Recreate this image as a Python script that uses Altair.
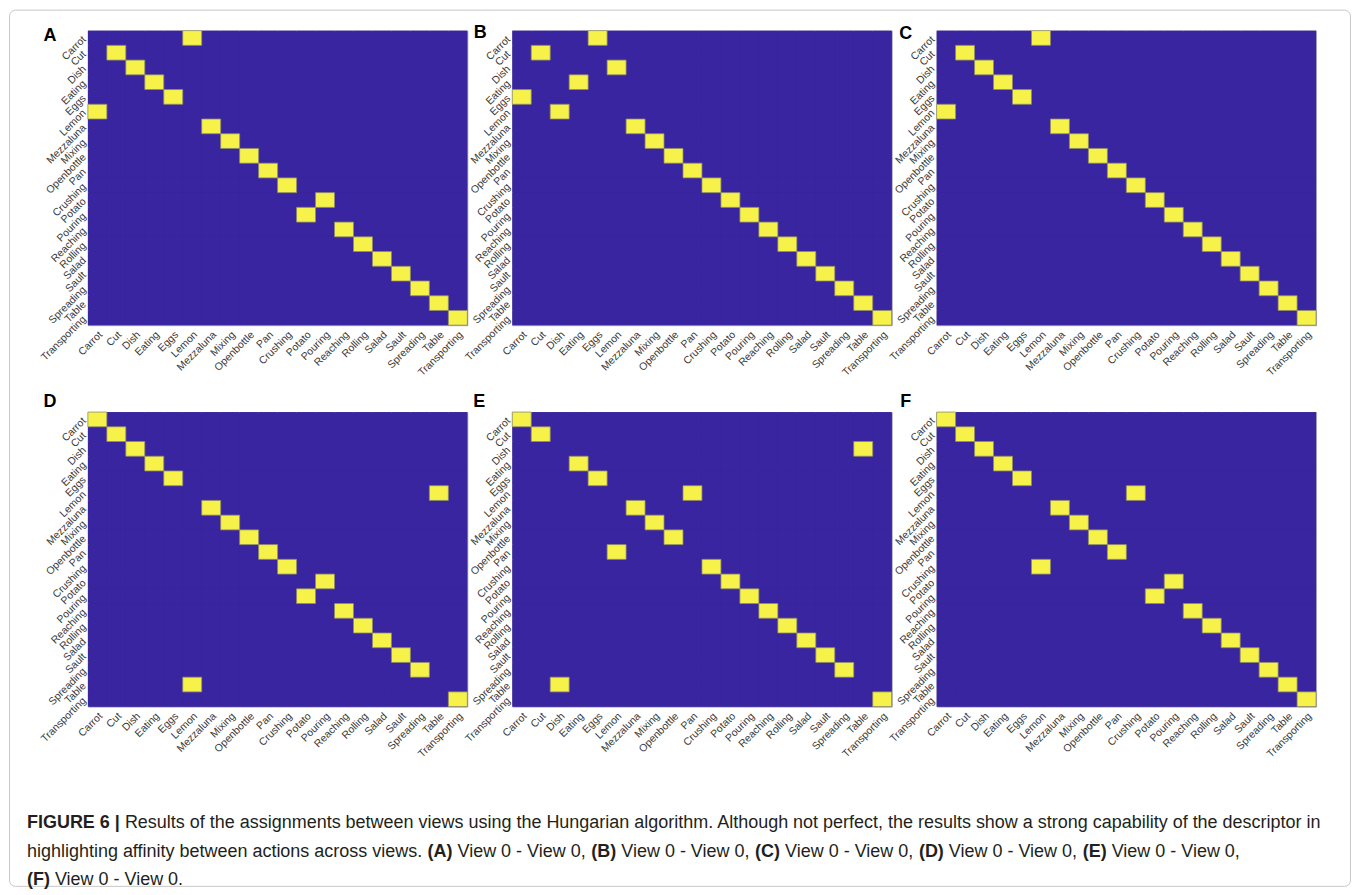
import altair as alt
import pandas as pd

actions = ["Carrot", "Cut", "Dish", "Eating", "Eggs", "Lemon", "Mezzaluna", "Mixing",
           "Openbottle", "Pan", "Crushing", "Potato", "Pouring", "Reaching", "Rolling",
           "Salad", "Sault", "Spreading", "Table", "Transporting"]

# column (action of the second view) assigned to each row action, per panel
assign_A = ["Lemon", "Cut", "Dish", "Eating", "Eggs", "Carrot", "Mezzaluna", "Mixing",
            "Openbottle", "Pan", "Crushing", "Pouring", "Potato", "Reaching", "Rolling",
            "Salad", "Sault", "Spreading", "Table", "Transporting"]
assign_B = ["Eggs", "Cut", "Lemon", "Eating", "Carrot", "Dish", "Mezzaluna", "Mixing",
            "Openbottle", "Pan", "Crushing", "Potato", "Pouring", "Reaching", "Rolling",
            "Salad", "Sault", "Spreading", "Table", "Transporting"]
assign_C = ["Lemon", "Cut", "Dish", "Eating", "Eggs", "Carrot", "Mezzaluna", "Mixing",
            "Openbottle", "Pan", "Crushing", "Potato", "Pouring", "Reaching", "Rolling",
            "Salad", "Sault", "Spreading", "Table", "Transporting"]
assign_D = ["Carrot", "Cut", "Dish", "Eating", "Eggs", "Table", "Mezzaluna", "Mixing",
            "Openbottle", "Pan", "Crushing", "Pouring", "Potato", "Reaching", "Rolling",
            "Salad", "Sault", "Spreading", "Lemon", "Transporting"]
assign_E = ["Carrot", "Cut", "Table", "Eating", "Eggs", "Pan", "Mezzaluna", "Mixing",
            "Openbottle", "Lemon", "Crushing", "Potato", "Pouring", "Reaching", "Rolling",
            "Salad", "Sault", "Spreading", "Dish", "Transporting"]
assign_F = ["Carrot", "Cut", "Dish", "Eating", "Eggs", "Crushing", "Mezzaluna", "Mixing",
            "Openbottle", "Pan", "Lemon", "Pouring", "Potato", "Reaching", "Rolling",
            "Salad", "Sault", "Spreading", "Table", "Transporting"]

panel_letters = ["A", "B", "C", "D", "E", "F"]

caption_line1 = [("FIGURE 6 |", True),
                 (" Results of the assignments between views using the Hungarian algorithm. "
                  "Although not perfect, the results show a strong capability of the descriptor in", False)]
caption_line2 = [("highlighting affinity between actions across views. ", False), ("(A)", True),
                 (" View 0 - View 0, ", False), ("(B)", True), (" View 0 - View 0, ", False),
                 ("(C)", True), (" View 0 - View 0, ", False), ("(D)", True),
                 (" View 0 - View 0, ", False), ("(E)", True), (" View 0 - View 0,", False)]
caption_line3 = [("(F)", True), (" View 0 - View 0.", False)]

BLUE = "#39259F"
YELLOW = "#F6F24A"
LABEL_FONT = "Liberation Sans, Arial, sans-serif"
CAP_FONT = "Liberation Sans, Arial, sans-serif"
CAP_SIZE = 18

PW, PH = 380, 295

# Arial / Liberation Sans advance widths (per 1000 em)
HELV = {' ': 278, '(': 333, ')': 333, ',': 278, '-': 333, '.': 278, '0': 556, '6': 556, '|': 260,
        'A': 667, 'B': 667, 'C': 722, 'D': 722, 'E': 667, 'F': 611, 'G': 778, 'H': 722, 'I': 278,
        'R': 722, 'U': 722, 'V': 667,
        'a': 556, 'b': 556, 'c': 500, 'd': 556, 'e': 556, 'f': 278, 'g': 556, 'h': 556, 'i': 222,
        'j': 222, 'k': 500, 'l': 222, 'm': 833, 'n': 556, 'o': 556, 'p': 556, 'q': 556, 'r': 333,
        's': 500, 't': 278, 'u': 556, 'v': 500, 'w': 722, 'x': 500, 'y': 500, 'z': 500}
HELV_B = {' ': 278, '(': 333, ')': 333, '|': 280, '6': 556, 'A': 722, 'B': 722, 'C': 722,
          'D': 722, 'E': 667, 'F': 611, 'G': 778, 'I': 278, 'R': 722, 'U': 722}


def tw(s, bold):
    tab = HELV_B if bold else HELV
    return sum(tab.get(c, HELV.get(c, 556)) for c in s) * CAP_SIZE / 1000.0


def panel(letter, assign, lx, ly):
    rows = []
    for r, a in zip(actions, assign):
        for c in actions:
            rows.append({"row": r, "col": c, "v": 1 if c == a else 0})
    df = pd.DataFrame(rows).sort_values("v", kind="stable")
    cells = alt.Chart(df).mark_rect(strokeWidth=0.8).encode(
        x=alt.X("col:N", sort=actions,
                scale=alt.Scale(domain=actions, paddingInner=0, paddingOuter=0),
                axis=alt.Axis(title=None, labelAngle=315, labelAlign="right", labelBaseline="top",
                              labelPadding=4, ticks=False, domain=False, labelFontSize=10.5,
                              labelFont=LABEL_FONT, labelColor="#3a3a3a")),
        y=alt.Y("row:N", sort=actions,
                scale=alt.Scale(domain=actions, paddingInner=0, paddingOuter=0),
                axis=alt.Axis(title=None, labelAngle=315, labelAlign="right", labelBaseline="middle",
                              labelPadding=4, ticks=False, domain=False, labelFontSize=10.5,
                              labelFont=LABEL_FONT, labelColor="#3a3a3a")),
        color=alt.Color("v:Q", scale=alt.Scale(domain=[0, 1], range=[BLUE, YELLOW]), legend=None),
        stroke=alt.condition("datum.v == 1", alt.value("#8f8d66"), alt.value("transparent")),
    )
    lab = alt.Chart(pd.DataFrame({"t": [letter]})).mark_text(
        font=LABEL_FONT, fontSize=18, fontWeight="bold", color="black",
        align="center", baseline="middle").encode(
        text="t:N", x=alt.value(lx), y=alt.value(ly))
    return alt.layer(cells, lab).properties(
        width=PW, height=PH,
        view=alt.ViewBackground(fill=BLUE, stroke="#a9a9b9", strokeWidth=1))


letter_pos = [(-38, 5), (-32, 2), (-31, 3), (-38, -10), (-33, -10), (-31, -10)]
assigns = [assign_A, assign_B, assign_C, assign_D, assign_E, assign_F]
panels = [panel(l, a, p[0], p[1]) for l, a, p in zip(panel_letters, assigns, letter_pos)]

# caption (placed in the grid cell below panel D; its text runs beyond the cell)
one = pd.DataFrame({"a": [0]})
layers = [alt.Chart(one).mark_rect(filled=False, stroke="#c8c8c8", strokeWidth=1, cornerRadius=6).encode(
    x=alt.value(-78.5), x2=alt.value(1264.5), y=alt.value(-784.5), y2=alt.value(93))]
x0 = -61
for line, yy in ((caption_line1, 30), (caption_line2, 59), (caption_line3, 87)):
    x = x0
    for seg, bold in line:
        lead = len(seg) - len(seg.lstrip(" "))
        xs = x + tw(" " * lead, bold)
        txt = seg.strip(" ")
        layers.append(alt.Chart(pd.DataFrame({"t": [txt]})).mark_text(
            font=CAP_FONT, fontSize=CAP_SIZE, fontWeight="bold" if bold else "normal",
            color="#231f20", align="left", baseline="middle").encode(
            text="t:N", x=alt.value(xs), y=alt.value(yy)))
        x += tw(seg, bold)

caption = alt.layer(*layers).properties(
    width=PW, height=90,
    view=alt.ViewBackground(fill="transparent", stroke="transparent"))

chart = alt.concat(*panels, caption, columns=3, spacing={"row": 87, "column": 45},
                   bounds="flush").properties(
    padding=0, background="white"
).configure_view(stroke="transparent")

chart.save("out.html", embed_options={"renderer": "svg", "actions": False})
